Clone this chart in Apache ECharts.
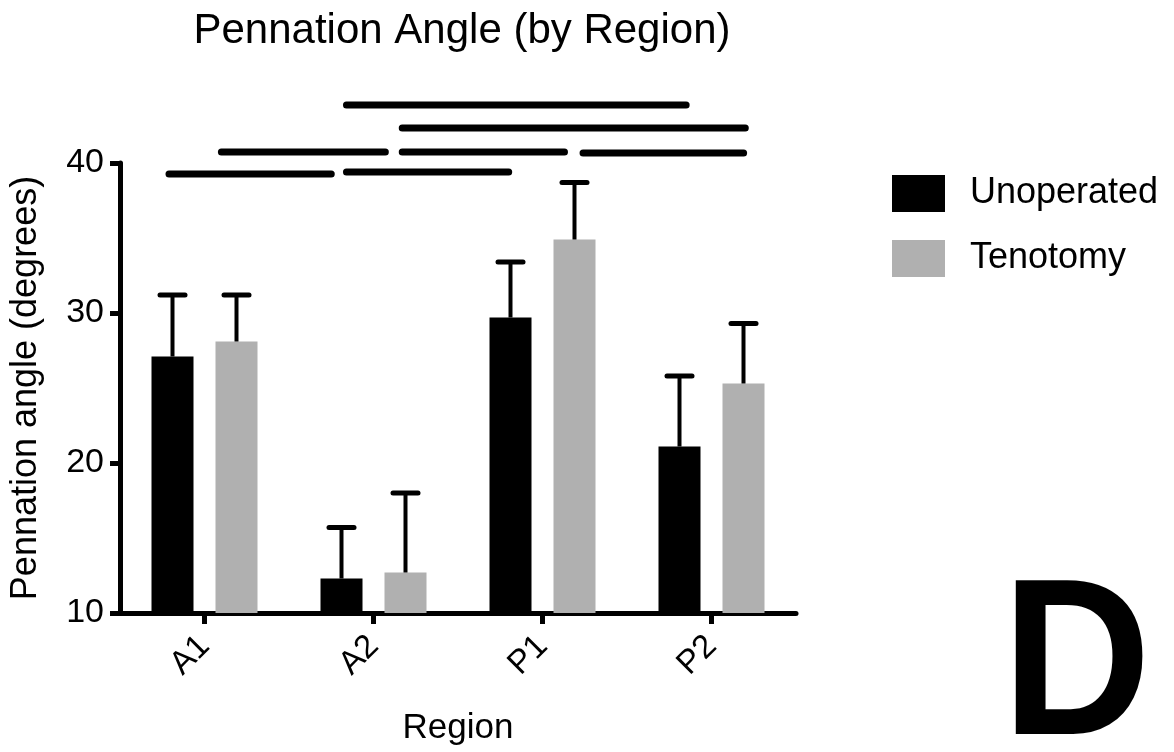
<!DOCTYPE html>
<html><head><meta charset="utf-8">
<script src="https://cdn.jsdelivr.net/npm/echarts@6/dist/echarts.min.js"></script>
<style>html,body{margin:0;padding:0;background:#fff}#c{width:1174px;height:752px}</style>
</head><body><div id="c"></div>
<script>
// ---- data ----
const categories = ['A1', 'A2', 'P1', 'P2'];
const unoperatedMean = [27.1, 12.3, 29.7, 21.1];
const unoperatedErr  = [4.1, 3.4, 3.7, 4.7];
const tenotomyMean   = [28.1, 12.7, 34.9, 25.3];
const tenotomyErr    = [3.1, 5.3, 3.8, 4.0];
const yTicks = [10, 20, 30, 40];
// significance bars: start / end in category units (A1 = 0 ... P2 = 3), level in degrees
const sigStart = [0.84, 1.17, 0.10, 1.17, 2.24, -0.21, 0.84];
const sigEnd   = [2.85, 3.20, 1.07, 2.13, 3.19, 0.75, 1.80];
const sigLevel = [43.87, 42.33, 40.73, 40.73, 40.67, 39.27, 39.40];

// ---- style constants ----
const FONT = '"Liberation Sans", Arial, Helvetica, sans-serif';
const BAR_W = 42, BAR_GAP_PX = 22, CAP = 25;
const OFFSET = (BAR_W + BAR_GAP_PX) / 2;

const chart = echarts.init(document.getElementById('c'), null, {renderer: 'canvas'});

function errRender(sign) {
  return function (params, api) {
    const i = api.value(0), m = api.value(1), e = api.value(2);
    const base = api.coord([i, m]);
    const top = api.coord([i, m + e]);
    const x = base[0] + sign * OFFSET;
    return {
      type: 'group',
      children: [
        {type: 'line', shape: {x1: x, y1: base[1], x2: x, y2: top[1]}, style: {stroke: '#000', lineWidth: 4}},
        {type: 'line', shape: {x1: x - CAP / 2, y1: top[1], x2: x + CAP / 2, y2: top[1]}, style: {stroke: '#000', lineWidth: 5, lineCap: 'round'}}
      ]
    };
  };
}

const errDataU = categories.map((c, i) => [i, unoperatedMean[i], unoperatedErr[i]]);
const errDataT = categories.map((c, i) => [i, tenotomyMean[i], tenotomyErr[i]]);
const sigData = sigStart.map((s, i) => [s, sigEnd[i], sigLevel[i]]);

const option = {
  animation: false,
  backgroundColor: '#fff',
  textStyle: {fontFamily: FONT, color: '#000'},
  title: {
    text: 'Pennation Angle (by Region)',
    left: 457, top: 5, textAlign: 'center',
    textStyle: {fontFamily: FONT, fontSize: 42, fontWeight: 'normal', color: '#000'}
  },
  legend: {
    data: ['Unoperated', 'Tenotomy'],
    orient: 'vertical', left: 892, top: 175, padding: 0,
    itemWidth: 53, itemHeight: 37, itemGap: 28, icon: 'rect',
    textStyle: {fontFamily: FONT, fontSize: 36, color: '#000', padding: [0, 0, 0, 20]}
  },
  grid: {left: 120, right: 378, top: 163, bottom: 139, containLabel: false},
  xAxis: [
    {
      type: 'category', data: categories,
      name: 'Region', nameLocation: 'middle', nameGap: 98,
      nameTextStyle: {fontFamily: FONT, fontSize: 35, color: '#000'},
      axisLine: {show: true, onZero: false, lineStyle: {color: '#000', width: 5}},
      axisTick: {show: true, alignWithLabel: true, length: 11, lineStyle: {color: '#000', width: 5}},
      axisLabel: {rotate: 45, fontFamily: FONT, fontSize: 33, color: '#000', margin: 28}
    },
    {type: 'value', min: -0.5, max: 3.5, show: false}
  ],
  yAxis: {
    type: 'value', min: yTicks[0], max: yTicks[yTicks.length - 1], interval: 10,
    name: 'Pennation angle (degrees)', nameLocation: 'middle', nameGap: 76, nameRotate: 90,
    nameTextStyle: {fontFamily: FONT, fontSize: 36, color: '#000'},
    axisLine: {show: true, onZero: false, lineStyle: {color: '#000', width: 5}},
    axisTick: {show: true, length: 10, lineStyle: {color: '#000', width: 5}},
    axisLabel: {fontFamily: FONT, fontSize: 34, color: '#000', margin: 16},
    splitLine: {show: false}
  },
  series: [
    {name: 'Unoperated', type: 'bar', data: unoperatedMean, barWidth: BAR_W,
     barGap: (BAR_GAP_PX / BAR_W * 100) + '%', itemStyle: {color: '#000'}},
    {name: 'Tenotomy', type: 'bar', data: tenotomyMean, barWidth: BAR_W,
     itemStyle: {color: '#b0b0b0'}},
    {name: 'errU', type: 'custom', data: errDataU, renderItem: errRender(-1),
     encode: {x: 0, y: 1}, z: 5, clip: false},
    {name: 'errT', type: 'custom', data: errDataT, renderItem: errRender(1),
     encode: {x: 0, y: 1}, z: 5, clip: false},
    {name: 'sig', type: 'custom', xAxisIndex: 1, data: sigData, clip: false, z: 6,
     encode: {x: [0, 1], y: 2},
     renderItem: function (params, api) {
       const a = api.coord([api.value(0), api.value(2)]);
       const b = api.coord([api.value(1), api.value(2)]);
       return {type: 'line', shape: {x1: a[0], y1: a[1], x2: b[0], y2: b[1]},
               style: {stroke: '#000', lineWidth: 7, lineCap: 'round'}};
     }}
  ],
  graphic: [
    {type: 'text', left: 1002, top: 562, scaleX: 0.93,
     style: {text: 'D', font: 'bold 222px ' + FONT, fill: '#000'}}
  ]
};
chart.setOption(option);
</script>
</body></html>
